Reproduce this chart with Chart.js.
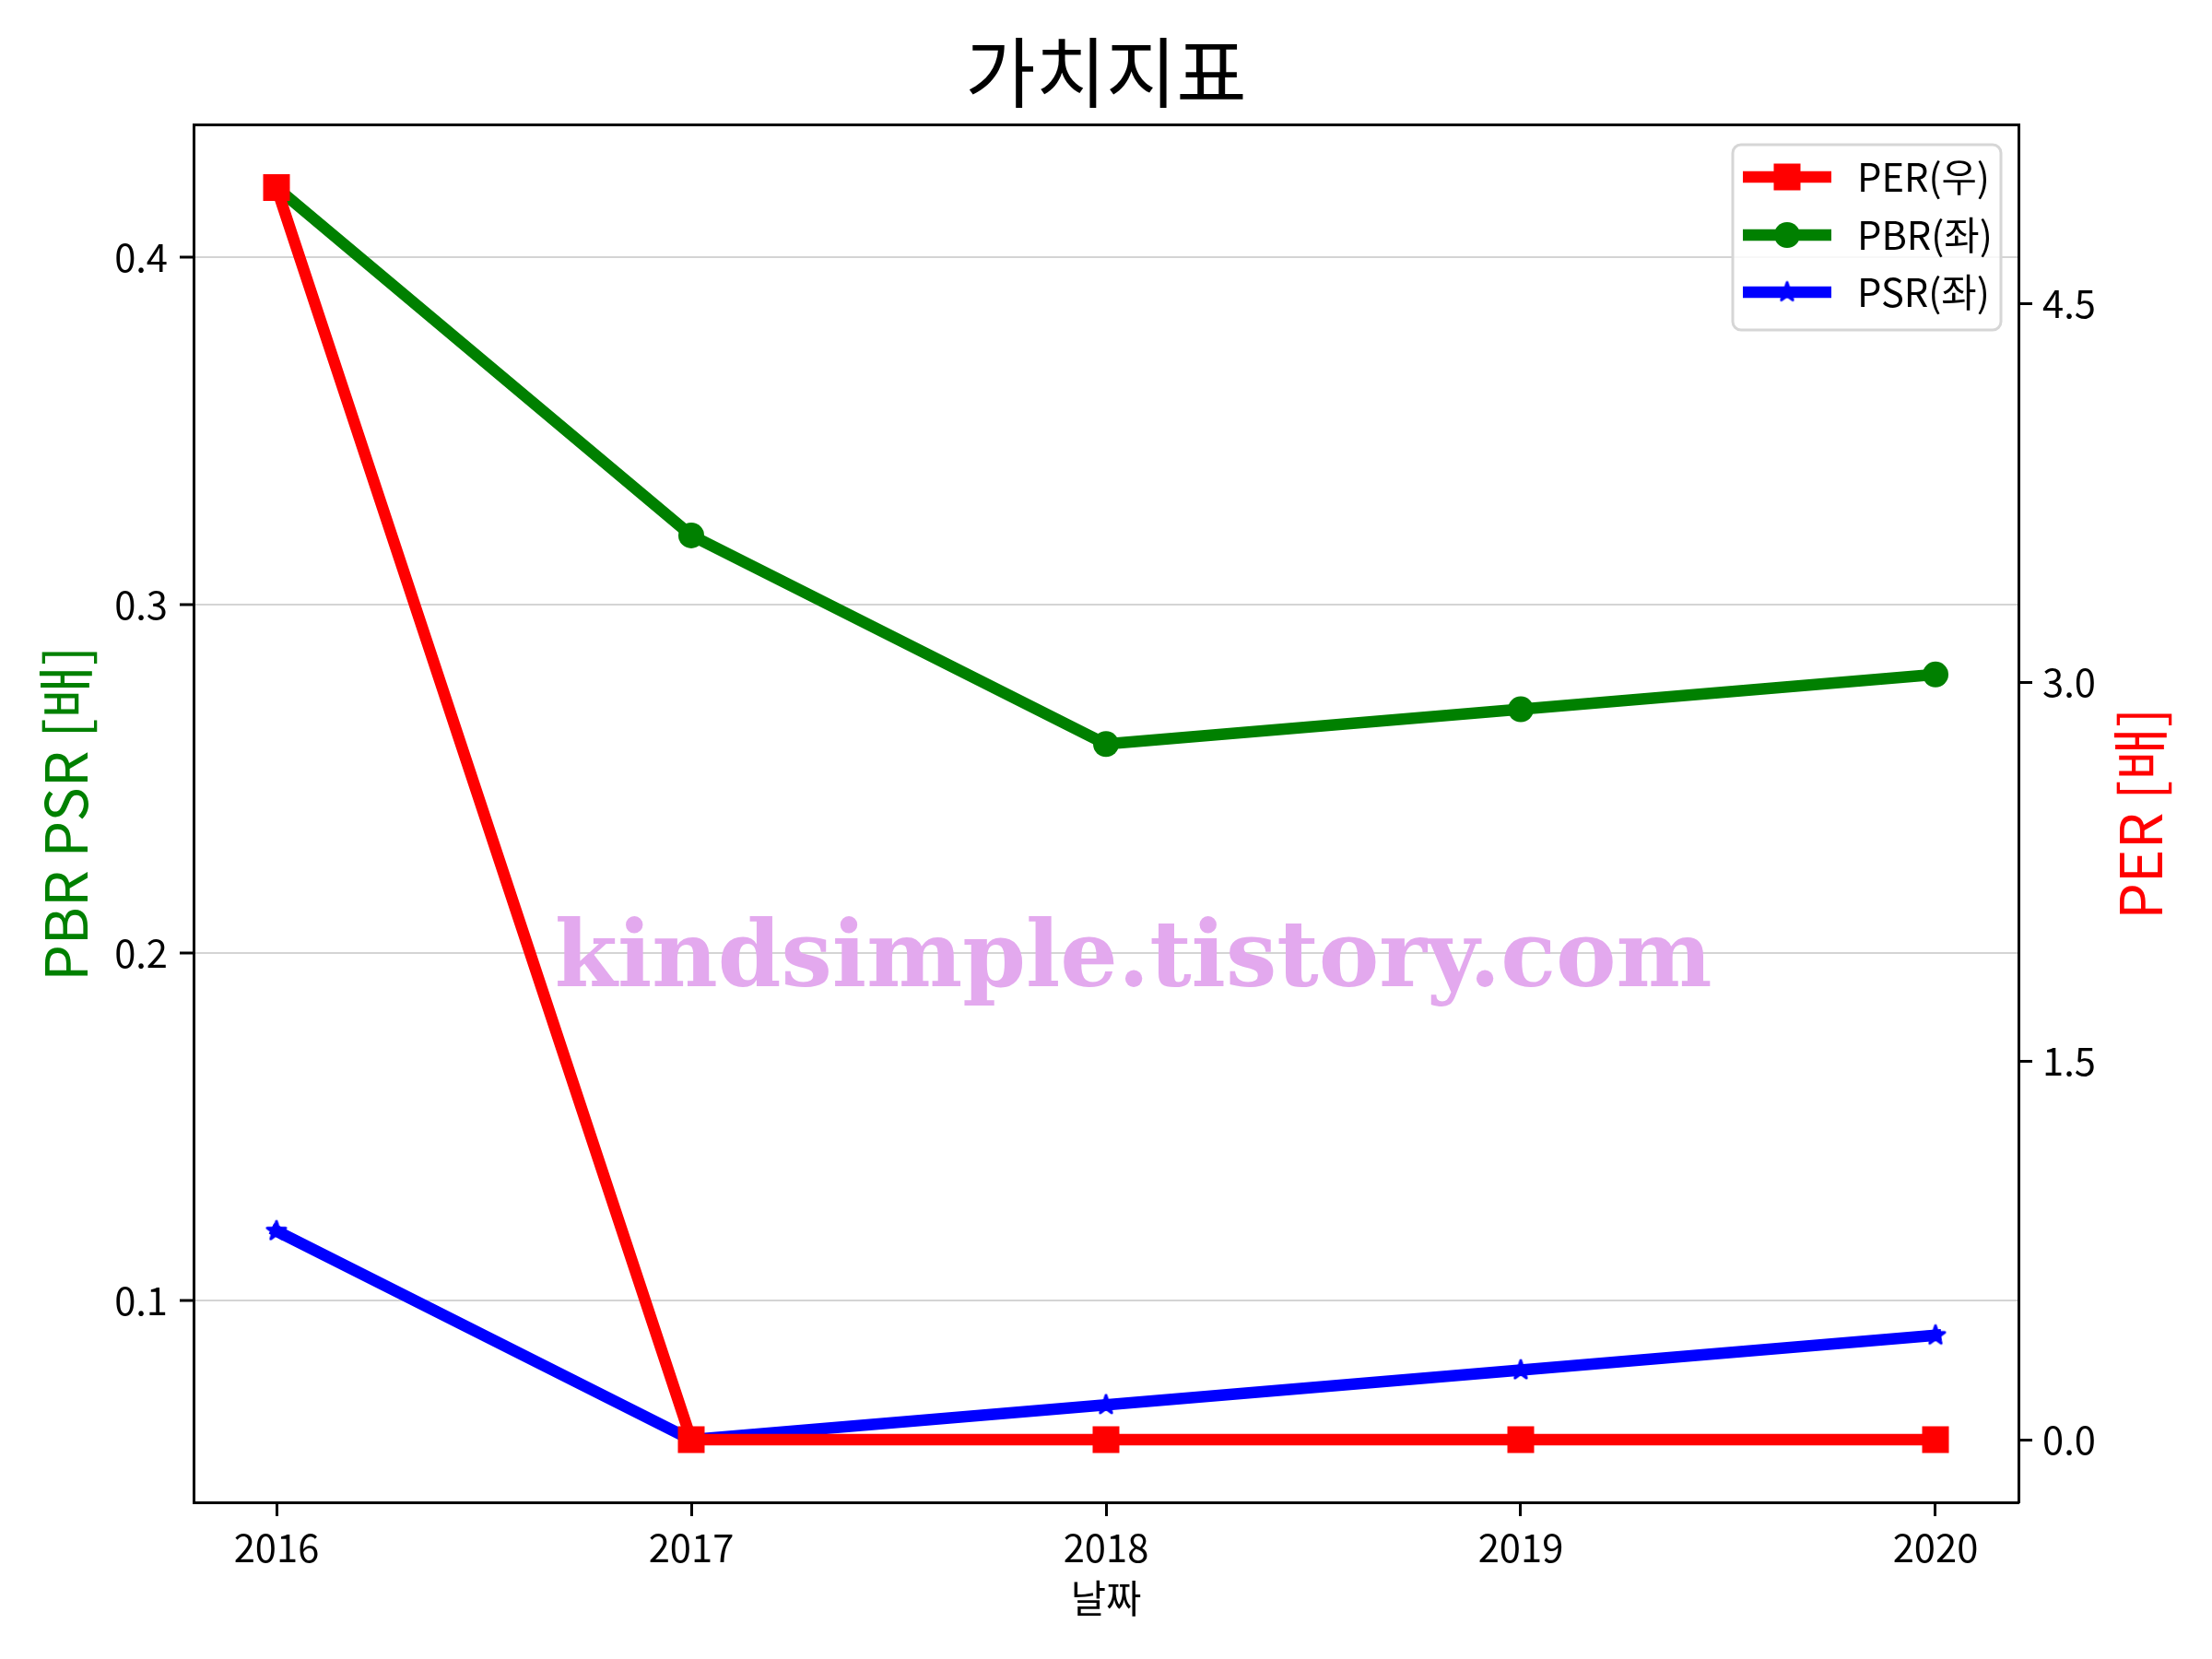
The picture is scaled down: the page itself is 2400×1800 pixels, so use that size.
<!DOCTYPE html>
<html>
<head>
<meta charset="utf-8">
<script src="https://cdn.jsdelivr.net/npm/chart.js@4"></script>
<style>
    body { margin: 0; background: #fff; }
</style>
</head>
<body>
<canvas id="myChart" width="2400" height="1800"></canvas>
<script>
// 데이터
const anos = [2016, 2017, 2018, 2019, 2020];
const per = [4.96, 0, 0, 0, 0];
const pbr = [0.42, 0.32, 0.26, 0.27, 0.28];
const psr = [0.12, 0.06, 0.07, 0.08, 0.09];
const ticksEsq = [0.1, 0.2, 0.3, 0.4];
const ticksDir = [0.0, 1.5, 3.0, 4.5];
const nomes = ['PER(우)', 'PBR(좌)', 'PSR(좌)'];
const cores = ['#ff0000', '#008000', '#0000ff'];
const titulo = '가치지표';
const tituloDir = 'PER [배]';
const marca = 'kindsimple.tistory.com';

Chart.defaults.font.family = "'Noto Sans CJK KR', 'Noto Sans', sans-serif";
Chart.defaults.color = '#000';

// estrela preenchida (marker '*')
function criarEstrela(r, cor) {
    var c = document.createElement('canvas');
    var s = Math.ceil(r * 2 + 6);
    c.width = s;
    c.height = s;
    var g = c.getContext('2d');
    g.beginPath();
    for (var i = 0; i < 10; i++) {
        var rr = i % 2 === 0 ? r : r * 0.382;
        var a = -Math.PI / 2 + i * Math.PI / 5;
        g.lineTo(s / 2 + rr * Math.cos(a), s / 2 + rr * Math.sin(a));
    }
    g.closePath();
    g.fillStyle = cor;
    g.fill();
    g.lineWidth = 3;
    g.lineJoin = 'round';
    g.strokeStyle = cor;
    g.stroke();
    return c;
}
const estrela = criarEstrela(10.5, cores[2]);

function pontos(vals) {
    return anos.map((a, i) => ({ x: a, y: vals[i] }));
}

// moldura, marca d'agua, titulo da direita e legenda
const extras = {
    id: 'extras',
    afterDatasetsDraw(chart) {
        const ctx = chart.ctx;
        const area = chart.chartArea;
        ctx.save();
        ctx.fillStyle = '#e3a9ee';
        ctx.textAlign = 'center';
        ctx.textBaseline = 'alphabetic';
        ctx.font = "bold 100px 'DejaVu Serif'";
        var w = ctx.measureText(marca).width;
        var tam = 100 * 1256 / w;
        ctx.font = 'bold ' + tam + "px 'DejaVu Serif'";
        ctx.fillText(marca, area.left + (area.right - area.left) * 0.515, 1070);
        ctx.restore();
    },
    afterDraw(chart) {
        const ctx = chart.ctx;
        const area = chart.chartArea;
        ctx.save();
        ctx.strokeStyle = '#000';
        ctx.lineWidth = 3;
        ctx.beginPath();
        ctx.moveTo(area.left, area.top);
        ctx.lineTo(area.right, area.top);
        ctx.stroke();

        // titulo do eixo da direita (lido de baixo para cima)
        ctx.save();
        ctx.translate(2322, (area.top + area.bottom) / 2);
        ctx.rotate(-Math.PI / 2);
        ctx.fillStyle = '#ff0000';
        ctx.font = "62.5px 'Noto Sans CJK KR'";
        ctx.textAlign = 'center';
        ctx.textBaseline = 'middle';
        ctx.fillText(tituloDir, 0, 0);
        ctx.restore();

        // legenda
        var bx = 1880, by = 157, bw = 291, bh = 201;
        ctx.fillStyle = 'rgba(255,255,255,0.8)';
        ctx.strokeStyle = '#d6d6d6';
        ctx.lineWidth = 3;
        ctx.beginPath();
        ctx.roundRect(bx, by, bw, bh, 9);
        ctx.fill();
        ctx.stroke();

        var linhas = [192, 255, 317];
        ctx.font = "41.7px 'Noto Sans CJK KR'";
        ctx.textBaseline = 'middle';
        ctx.textAlign = 'left';
        for (var i = 0; i < 3; i++) {
            var y = linhas[i];
            ctx.strokeStyle = cores[i];
            ctx.fillStyle = cores[i];
            ctx.lineWidth = 12.5;
            ctx.lineCap = 'butt';
            ctx.beginPath();
            ctx.moveTo(1891, y);
            ctx.lineTo(1987, y);
            ctx.stroke();
            if (i === 0) {
                ctx.fillRect(1939 - 14.5, y - 14.5, 29, 29);
            } else if (i === 1) {
                ctx.beginPath();
                ctx.arc(1939, y, 14, 0, Math.PI * 2);
                ctx.fill();
            } else {
                ctx.drawImage(estrela, 1939 - estrela.width / 2, y - estrela.height / 2);
            }
            ctx.fillStyle = '#000';
            ctx.fillText(nomes[i], 2015, y);
        }
        ctx.restore();
    }
};

var ctx = document.getElementById('myChart').getContext('2d');

var myChart = new Chart(ctx, {
    type: 'line',
    data: {
        datasets: [{
            label: nomes[0],
            data: pontos(per),
            yAxisID: 'yDir',
            borderColor: cores[0],
            backgroundColor: cores[0],
            borderWidth: 12.5,
            pointStyle: 'rect',
            pointRadius: 20.5,
            pointBorderWidth: 0
        }, {
            label: nomes[1],
            data: pontos(pbr),
            yAxisID: 'y',
            borderColor: cores[1],
            backgroundColor: cores[1],
            borderWidth: 12.5,
            pointStyle: 'circle',
            pointRadius: 14,
            pointBorderWidth: 0
        }, {
            label: nomes[2],
            data: pontos(psr),
            yAxisID: 'y',
            borderColor: cores[2],
            backgroundColor: cores[2],
            borderWidth: 12.5,
            pointStyle: estrela,
            pointRadius: 12
        }]
    },
    options: {
        responsive: false,
        animation: false,
        devicePixelRatio: 1,
        layout: { padding: 0 },
        elements: {
            line: { tension: 0, borderJoinStyle: 'round', borderCapStyle: 'square', fill: false }
        },
        plugins: {
            legend: { display: false },
            tooltip: { enabled: false },
            title: {
                display: true,
                text: titulo,
                font: { size: 83, weight: 'normal' },
                color: '#000',
                padding: { top: 29, bottom: 7 }
            }
        },
        scales: {
            x: {
                type: 'linear',
                min: 2015.8,
                max: 2020.2,
                afterBuildTicks: s => { s.ticks = anos.map(v => ({ value: v })); },
                afterFit: s => { s.height = 170; },
                ticks: {
                    callback: v => String(v),
                    font: { size: 41.7 },
                    color: '#000',
                    padding: 9,
                    maxRotation: 0
                },
                grid: { drawOnChartArea: false, tickLength: 15, tickColor: '#000', tickWidth: 3 },
                border: { color: '#000', width: 3 },
                title: {
                    display: true,
                    text: '날짜',
                    font: { size: 41.7 },
                    color: '#000',
                    padding: { top: 0, bottom: 41 }
                }
            },
            y: {
                position: 'left',
                min: 0.042,
                max: 0.438,
                afterBuildTicks: s => { s.ticks = ticksEsq.map(v => ({ value: v })); },
                afterFit: s => { s.width = 210; },
                ticks: {
                    callback: v => v.toFixed(1),
                    font: { size: 41.7 },
                    color: '#000',
                    padding: 13
                },
                grid: { color: '#d4d4d4', lineWidth: 2, tickLength: 15, tickColor: '#000', tickWidth: 3 },
                border: { color: '#000', width: 3 },
                title: {
                    display: true,
                    text: 'PBR PSR [배]',
                    font: { size: 62.5 },
                    color: '#008000',
                    padding: { top: 34, bottom: 0 }
                }
            },
            yDir: {
                position: 'right',
                min: -0.248,
                max: 5.208,
                afterBuildTicks: s => { s.ticks = ticksDir.map(v => ({ value: v })); },
                afterFit: s => { s.width = 210; },
                ticks: {
                    callback: v => v.toFixed(1),
                    font: { size: 41.7 },
                    color: '#000',
                    padding: 11
                },
                grid: { drawOnChartArea: false, tickLength: 15, tickColor: '#000', tickWidth: 3 },
                border: { color: '#000', width: 3 }
            }
        }
    },
    plugins: [extras]
});
</script>
</body>
</html>
